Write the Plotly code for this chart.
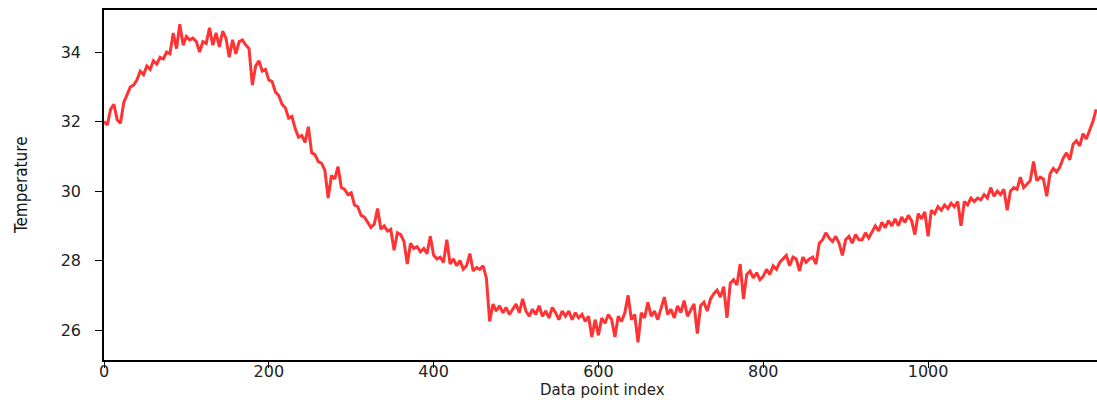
import plotly.graph_objects as go

# Sampled temperature readings (every 4th data point index)
step = 4
temperature = [
    32.0, 31.9, 32.35, 32.5, 32.05, 31.95, 32.55, 32.75, 33.0, 33.05,
    33.2, 33.45, 33.35, 33.6, 33.5, 33.75, 33.65, 33.85, 33.8, 34.0,
    33.95, 34.55, 34.1, 34.8, 34.2, 34.45, 34.35, 34.4, 34.3, 34.0,
    34.3, 34.25, 34.7, 34.2, 34.55, 34.15, 34.6, 34.4, 33.85, 34.35,
    33.95, 34.3, 34.35, 34.2, 34.1, 33.05, 33.6, 33.75, 33.45, 33.5,
    33.2, 33.15, 32.85, 32.75, 32.5, 32.4, 32.1, 32.15, 31.8, 31.55,
    31.6, 31.4, 31.85, 31.1, 31.05, 30.85, 30.8, 30.6, 29.8, 30.45,
    30.35, 30.7, 30.1, 30.05, 29.9, 29.95, 29.6, 29.55, 29.3, 29.25,
    29.1, 28.95, 29.05, 29.5, 28.9, 29.0, 28.85, 28.9, 28.3, 28.8,
    28.75, 28.55, 27.9, 28.5, 28.35, 28.4, 28.25, 28.35, 28.2, 28.7,
    28.15, 28.05, 28.1, 27.95, 28.6, 27.9, 28.05, 27.85, 28.0, 27.75,
    27.85, 28.2, 27.7, 27.8, 27.75, 27.85, 27.5, 26.25, 26.75, 26.55,
    26.7, 26.5, 26.65, 26.45, 26.6, 26.75, 26.5, 26.9, 26.55, 26.4,
    26.6, 26.45, 26.7, 26.4, 26.55, 26.35, 26.65, 26.5, 26.3, 26.55,
    26.4, 26.55, 26.3, 26.5, 26.35, 26.45, 26.25, 26.4, 25.8, 26.3,
    25.85, 26.35, 26.2, 26.45, 26.3, 25.8, 26.4, 26.25, 26.5, 27.0,
    26.3, 26.45, 25.65, 26.5, 26.35, 26.8, 26.4, 26.55, 26.3, 26.6,
    26.95, 26.45, 26.6, 26.35, 26.7, 26.5, 26.85, 26.4, 26.6, 26.75,
    25.9, 26.7, 26.8, 26.55, 26.9, 27.05, 27.15, 26.95, 27.25, 26.35,
    27.35, 27.45, 27.3, 27.9, 26.9, 27.6, 27.7, 27.5, 27.65, 27.45,
    27.55, 27.75, 27.6, 27.85, 27.75, 27.95, 28.05, 28.15, 27.85, 28.1,
    28.05, 27.7, 28.1, 27.95, 28.05, 28.1, 27.9, 28.5, 28.6, 28.8,
    28.65, 28.55, 28.7, 28.5, 28.15, 28.6, 28.7, 28.5, 28.75, 28.6,
    28.6, 28.8, 28.65, 28.85, 29.0, 28.85, 29.1, 28.95, 29.15, 29.0,
    29.2, 29.0, 29.25, 29.1, 29.3, 29.15, 28.75, 29.35, 29.2, 29.4,
    28.7, 29.45, 29.35, 29.55, 29.45, 29.6, 29.5, 29.65, 29.55, 29.7,
    29.0, 29.7, 29.6, 29.8, 29.7, 29.8, 29.75, 29.9, 29.8, 30.1,
    29.85, 30.0, 29.9, 30.05, 29.45, 30.0, 30.1, 30.05, 30.4, 30.1,
    30.2, 30.3, 30.85, 30.3, 30.4, 30.35, 29.85, 30.5, 30.65, 30.55,
    30.7, 30.95, 31.1, 30.9, 31.35, 31.45, 31.3, 31.65, 31.5, 31.75,
    32.0, 32.35,
]
point_index = list(range(0, step * len(temperature), step))

x_ticks = [0, 200, 400, 600, 800, 1000]
y_ticks = [26, 28, 30, 32, 34]
x_title = "Data point index"
y_title = "Temperature"

tick_font = dict(family="DejaVu Sans, sans-serif", size=16, color="#222222")

fig = go.Figure(
    go.Scatter(
        x=point_index,
        y=temperature,
        mode="lines",
        line=dict(color="#ff3333", width=3),
        showlegend=False,
    )
)

axis_common = dict(
    ticks="outside",
    tickcolor="black",
    showline=True,
    linecolor="black",
    linewidth=1.5,
    showgrid=False,
    zeroline=False,
    tickfont=tick_font,
    automargin=False,
)

fig.update_layout(
    width=1097,
    height=400,
    margin=dict(l=104, r=0, t=10, b=40),
    paper_bgcolor="white",
    plot_bgcolor="white",
    xaxis=dict(range=[0, 1205], tickvals=x_ticks, ticklen=6, mirror=True,
               ticklabelstandoff=-10, **axis_common),
    yaxis=dict(range=[25.14, 35.21], tickvals=y_ticks, ticklen=7,
               ticklabelstandoff=11, **axis_common),
    annotations=[
        dict(
            text=x_title, xref="paper", yref="paper", x=0.5, y=0,
            xanchor="center", yanchor="middle", xshift=2, yshift=-30,
            showarrow=False, borderpad=0,
            font=dict(family="DejaVu Sans, sans-serif", size=15, color="#222222"),
        ),
        dict(
            text=y_title, xref="paper", yref="paper", x=0, y=0.5,
            xanchor="center", yanchor="middle", xshift=-83, textangle=-90,
            showarrow=False,
            font=dict(family="Liberation Sans Narrow, DejaVu Sans Condensed, sans-serif",
                      size=17, color="#111111"),
        ),
    ],
)

fig.write_html("out.html")
